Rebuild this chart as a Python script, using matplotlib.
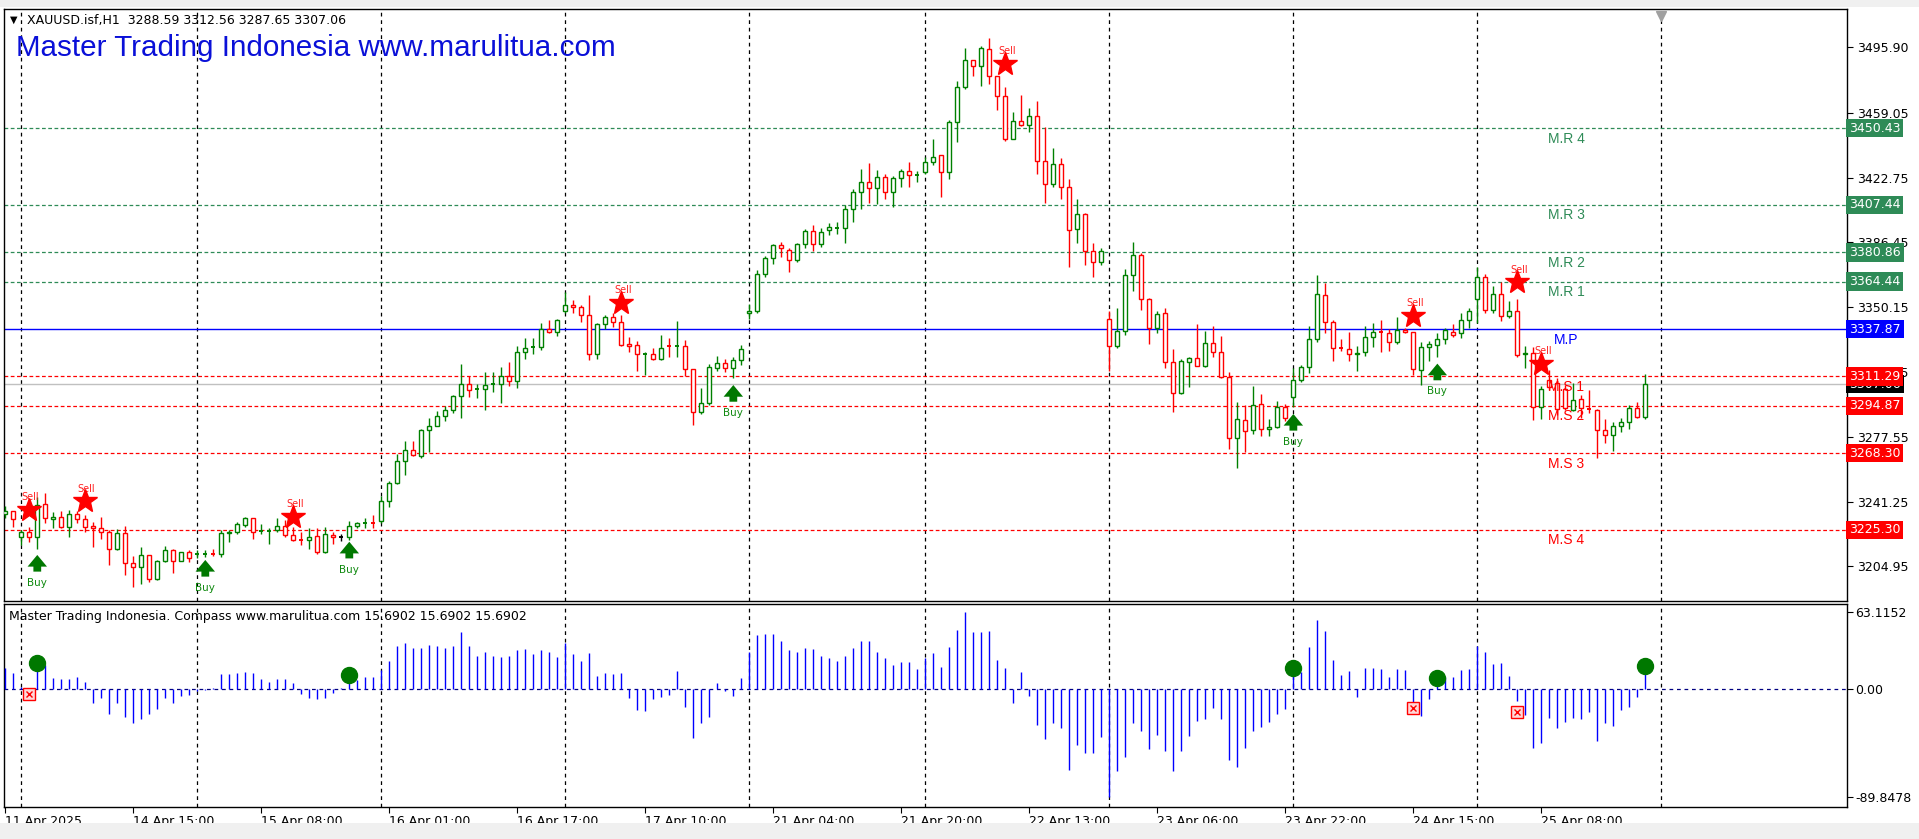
import matplotlib
matplotlib.use("Agg")
import matplotlib.pyplot as plt
import matplotlib.transforms as mtransforms
from matplotlib.patches import Rectangle

# ---- chart data ----
header = "XAUUSD.isf,H1  3288.59 3312.56 3287.65 3307.06"
banner = "Master Trading Indonesia www.marulitua.com"
sub_header = "Master Trading Indonesia. Compass www.marulitua.com 15.6902 15.6902 15.6902"

opens = [
    3234.0, 3235.9, 3221.5, 3223.9, 3221.1, 3239.8, 3231.7, 3232.3, 3227.2, 3234.1,
    3231.3, 3227.7, 3226.6, 3224.3, 3214.6, 3223.7, 3206.7, 3204.4, 3211.1, 3197.8,
    3207.8, 3213.9, 3207.8, 3212.8, 3211.8, 3211.8, 3212.0, 3211.6, 3223.7, 3224.3,
    3228.1, 3231.9, 3224.8, 3224.8, 3225.3, 3227.7, 3222.4, 3220.0, 3219.9, 3221.9,
    3213.0, 3222.4, 3221.1, 3221.1, 3227.7, 3229.3, 3229.4, 3230.6, 3241.3, 3251.8,
    3264.0, 3270.3, 3266.5, 3281.1, 3283.8, 3289.4, 3292.4, 3300.2, 3307.0, 3303.9,
    3304.1, 3307.1, 3307.2, 3311.7, 3308.8, 3325.2, 3327.8, 3328.0, 3338.1, 3336.5,
    3348.0, 3351.6, 3350.5, 3345.5, 3323.7, 3340.8, 3344.4, 3341.7, 3329.7, 3329.1,
    3324.1, 3324.1, 3321.2, 3328.4, 3328.2, 3328.6, 3315.6, 3291.2, 3296.4, 3316.3,
    3318.9, 3316.3, 3320.7, 3346.6, 3348.2, 3368.5, 3377.5, 3384.9, 3382.4, 3376.3,
    3385.3, 3392.8, 3385.6, 3393.1, 3394.7, 3394.7, 3405.1, 3414.8, 3420.4, 3417.0,
    3423.2, 3414.8, 3422.6, 3426.5, 3423.9, 3425.7, 3431.5, 3435.2, 3425.7, 3453.8,
    3473.3, 3488.7, 3485.3, 3494.8, 3479.8, 3468.6, 3444.1, 3454.7, 3452.4, 3457.2,
    3432.1, 3419.0, 3430.1, 3417.6, 3393.9, 3402.3, 3381.4, 3375.2, 3343.7, 3328.4,
    3336.8, 3368.0, 3379.1, 3354.9, 3338.7, 3347.1, 3319.2, 3301.9, 3319.2, 3321.5,
    3317.3, 3329.8, 3324.8, 3310.9, 3276.6, 3287.1, 3281.1, 3295.7, 3281.7, 3283.1,
    3294.1, 3299.7, 3309.1, 3316.5, 3332.1, 3357.1, 3342.1, 3327.2, 3326.5, 3323.7,
    3325.1, 3333.7, 3336.2, 3335.5, 3330.5, 3337.1, 3336.1, 3314.7, 3327.7, 3329.1,
    3332.1, 3336.5, 3335.5, 3342.7, 3354.7, 3367.1, 3348.7, 3357.7, 3345.1, 3348.1,
    3323.7, 3324.5, 3294.1, 3309.4, 3307.5, 3304.1, 3292.5, 3298.5, 3293.4, 3292.5,
    3281.3, 3278.5, 3283.6, 3285.6, 3293.5, 3288.59,
]
highs = [
    3238.5, 3235.9, 3225.3, 3227.2, 3243.6, 3246.1, 3235.1, 3235.7, 3236.6, 3236.1,
    3233.8, 3230.0, 3232.3, 3225.3, 3225.6, 3227.5, 3210.5, 3215.8, 3211.1, 3208.6,
    3216.2, 3214.8, 3212.8, 3214.3, 3213.9, 3213.9, 3214.8, 3225.3, 3225.3, 3230.0,
    3232.8, 3231.9, 3228.7, 3226.2, 3231.9, 3230.9, 3226.8, 3224.3, 3226.2, 3226.2,
    3226.8, 3224.3, 3223.0, 3230.6, 3230.0, 3231.9, 3233.8, 3244.2, 3252.7, 3267.8,
    3274.9, 3275.4, 3281.8, 3287.9, 3291.7, 3294.9, 3300.9, 3318.3, 3311.5, 3307.0,
    3313.8, 3313.8, 3316.7, 3319.4, 3328.6, 3333.1, 3333.1, 3341.4, 3343.0, 3343.7,
    3358.8, 3354.3, 3351.6, 3356.8, 3341.4, 3346.0, 3347.1, 3345.5, 3333.6, 3330.9,
    3325.0, 3327.3, 3334.7, 3333.1, 3342.6, 3332.0, 3315.6, 3304.8, 3318.3, 3322.8,
    3321.2, 3322.3, 3329.1, 3352.0, 3370.7, 3379.0, 3385.8, 3386.5, 3383.5, 3386.0,
    3393.9, 3396.2, 3394.5, 3397.3, 3398.1, 3407.3, 3416.2, 3427.4, 3430.7, 3426.8,
    3424.6, 3423.7, 3427.4, 3431.5, 3426.5, 3434.3, 3444.6, 3435.2, 3455.2, 3476.7,
    3495.1, 3488.7, 3496.2, 3501.2, 3479.8, 3473.3, 3459.4, 3469.2, 3461.6, 3465.5,
    3451.0, 3439.3, 3433.5, 3421.8, 3410.6, 3402.8, 3386.1, 3383.3, 3347.9, 3349.9,
    3371.6, 3386.9, 3380.5, 3355.4, 3347.9, 3349.9, 3326.5, 3320.9, 3322.0, 3340.9,
    3336.8, 3339.6, 3334.0, 3313.6, 3296.9, 3295.1, 3306.1, 3301.5, 3287.5, 3297.5,
    3296.1, 3316.1, 3317.7, 3339.5, 3368.1, 3363.7, 3343.1, 3332.1, 3336.1, 3328.1,
    3339.7, 3341.5, 3343.1, 3337.7, 3344.5, 3338.5, 3336.1, 3330.5, 3331.1, 3335.7,
    3338.5, 3340.5, 3347.1, 3349.7, 3372.5, 3368.5, 3362.1, 3364.1, 3353.5, 3354.5,
    3328.1, 3327.7, 3306.1, 3314.9, 3310.3, 3306.5, 3307.5, 3300.9, 3303.7, 3292.9,
    3287.3, 3286.0, 3287.9, 3295.3, 3297.2, 3312.56,
]
lows = [
    3231.9, 3227.2, 3216.7, 3218.6, 3214.8, 3229.4, 3226.6, 3226.2, 3221.1, 3229.0,
    3224.3, 3215.8, 3220.5, 3205.9, 3213.9, 3200.3, 3193.1, 3195.0, 3195.9, 3197.2,
    3207.3, 3201.0, 3207.8, 3207.1, 3209.7, 3210.1, 3210.5, 3210.1, 3218.6, 3223.0,
    3227.2, 3220.5, 3223.0, 3217.3, 3224.3, 3221.5, 3219.2, 3216.7, 3214.8, 3211.6,
    3212.4, 3217.3, 3219.2, 3219.6, 3226.2, 3226.2, 3226.2, 3229.4, 3238.1, 3250.8,
    3255.9, 3266.9, 3265.6, 3269.0, 3283.6, 3286.3, 3290.8, 3288.1, 3299.8, 3299.4,
    3292.6, 3302.5, 3296.4, 3306.1, 3305.0, 3321.2, 3324.1, 3326.4, 3335.4, 3334.2,
    3347.1, 3347.1, 3342.1, 3320.5, 3321.2, 3338.1, 3338.8, 3328.6, 3325.2, 3314.4,
    3312.2, 3320.5, 3320.7, 3322.3, 3322.3, 3311.5, 3284.0, 3290.3, 3295.3, 3314.4,
    3314.0, 3310.6, 3317.8, 3343.3, 3347.1, 3367.3, 3374.5, 3378.1, 3369.6, 3375.2,
    3383.1, 3381.5, 3383.6, 3390.6, 3391.1, 3386.1, 3398.1, 3405.1, 3408.4, 3407.9,
    3410.6, 3406.5, 3417.6, 3417.6, 3420.4, 3424.6, 3429.6, 3412.0, 3421.8, 3442.7,
    3472.5, 3479.8, 3474.2, 3475.3, 3460.8, 3443.5, 3444.1, 3451.9, 3448.3, 3424.6,
    3408.4, 3417.6, 3410.6, 3372.5, 3386.1, 3373.9, 3366.9, 3373.9, 3314.5, 3327.0,
    3334.8, 3359.1, 3348.8, 3329.3, 3335.4, 3315.9, 3291.4, 3301.4, 3305.3, 3317.3,
    3316.4, 3322.0, 3310.3, 3270.7, 3260.1, 3269.1, 3279.1, 3277.7, 3277.7, 3282.7,
    3286.1, 3294.1, 3308.1, 3313.1, 3330.7, 3335.7, 3320.1, 3325.7, 3320.1, 3314.5,
    3322.5, 3327.7, 3325.1, 3325.7, 3329.7, 3335.7, 3312.1, 3306.5, 3319.7, 3322.1,
    3329.7, 3333.7, 3333.1, 3338.5, 3341.1, 3347.1, 3347.1, 3342.5, 3344.1, 3322.1,
    3316.1, 3287.1, 3287.7, 3303.7, 3289.7, 3292.5, 3292.2, 3287.9, 3291.0, 3265.4,
    3274.2, 3269.7, 3280.4, 3281.7, 3287.9, 3287.65,
]
closes = [
    3235.9, 3231.3, 3223.9, 3221.1, 3239.5, 3231.9, 3232.3, 3227.2, 3234.1, 3231.3,
    3227.2, 3226.6, 3223.9, 3214.8, 3223.7, 3206.7, 3204.4, 3211.1, 3197.8, 3207.8,
    3213.9, 3207.8, 3212.8, 3209.7, 3212.0, 3212.0, 3211.8, 3223.7, 3224.3, 3228.7,
    3231.9, 3224.3, 3224.9, 3224.9, 3227.7, 3222.4, 3219.9, 3219.9, 3221.1, 3213.0,
    3223.0, 3221.5, 3221.1, 3227.7, 3229.0, 3229.4, 3229.3, 3241.3, 3251.8, 3264.0,
    3270.3, 3267.5, 3281.1, 3283.8, 3289.4, 3292.4, 3300.2, 3307.0, 3303.6, 3304.2,
    3306.6, 3307.3, 3311.7, 3308.8, 3325.2, 3327.5, 3328.0, 3338.1, 3336.5, 3342.8,
    3351.1, 3350.0, 3345.5, 3324.1, 3340.8, 3344.4, 3341.7, 3329.1, 3328.6, 3323.7,
    3324.2, 3321.2, 3327.5, 3328.3, 3328.4, 3315.6, 3291.2, 3296.4, 3316.7, 3318.9,
    3316.3, 3320.7, 3326.8, 3348.2, 3368.5, 3377.5, 3384.9, 3383.1, 3376.3, 3385.3,
    3392.8, 3385.3, 3392.5, 3395.3, 3394.8, 3405.1, 3414.8, 3420.4, 3417.0, 3423.2,
    3414.8, 3422.6, 3426.5, 3424.0, 3424.1, 3431.5, 3434.3, 3425.7, 3453.8, 3473.3,
    3488.7, 3485.3, 3495.1, 3479.8, 3468.6, 3444.1, 3454.7, 3452.4, 3457.2, 3432.1,
    3419.0, 3430.1, 3417.6, 3393.1, 3402.3, 3381.4, 3375.2, 3381.4, 3328.4, 3336.8,
    3368.0, 3379.1, 3354.9, 3338.7, 3346.5, 3319.2, 3301.9, 3320.1, 3321.5, 3317.3,
    3329.8, 3324.8, 3310.9, 3276.9, 3287.2, 3280.5, 3295.1, 3281.7, 3283.1, 3294.1,
    3288.1, 3309.1, 3316.5, 3332.1, 3357.7, 3342.1, 3327.1, 3327.1, 3323.7, 3324.7,
    3333.7, 3336.5, 3336.1, 3330.5, 3337.1, 3336.1, 3315.5, 3327.7, 3329.5, 3332.1,
    3337.1, 3334.7, 3342.7, 3348.1, 3367.1, 3348.7, 3357.7, 3345.1, 3348.1, 3323.5,
    3324.7, 3294.1, 3304.5, 3305.6, 3292.9, 3293.5, 3298.1, 3293.5, 3293.3, 3281.3,
    3278.5, 3283.6, 3285.6, 3293.5, 3288.4, 3307.06,
]
doji_black = [42]

compass = [
    16.8, 12.6, 1.0, -1.0, 16.0, 19.8, 8.4, 7.8, 7.8, 9.2,
    5.6, -12.3, -7.5, -20.7, -11.7, -23.7, -28.5, -25.1, -21.0, -17.3,
    -7.5, -12.3, -6.1, -5.6, -2.0, -1.4, 0.8, 12.0, 12.0, 12.6,
    13.4, 12.6, 7.8, 5.6, 7.8, 7.8, 4.2, -4.7, -7.5, -8.9,
    -7.5, -3.4, 0.8, 6.4, 7.0, 9.2, 9.2, 15.6, 22.4, 35.2,
    37.3, 33.7, 33.9, 35.9, 34.9, 33.2, 34.9, 46.5, 34.9, 26.6,
    29.9, 26.6, 25.9, 26.6, 32.2, 32.6, 28.2, 31.6, 29.9, 25.9,
    37.5, 28.2, 22.6, 29.2, 10.6, 12.6, 11.6, 12.6, -7.6, -17.6,
    -18.3, -8.3, -7.3, -5.6, 14.3, -15.0, -40.9, -28.9, -23.9, 4.3,
    -1.7, -6.6, 9.0, 30.6, 44.2, 44.9, 44.9, 39.2, 31.6, 29.9,
    33.2, 32.6, 26.7, 25.1, 22.6, 27.2, 33.3, 39.1, 39.1, 30.0,
    25.1, 19.7, 21.8, 21.8, 16.5, 25.1, 29.2, 17.7, 34.1, 48.5,
    63.1, 46.5, 46.5, 47.3, 23.9, 16.9, -11.9, 13.6, -6.2, -30.4,
    -42.0, -28.4, -32.5, -67.5, -46.9, -53.1, -53.1, -39.9, -89.85, -67.9,
    -56.4, -28.4, -35.0, -50.2, -38.7, -51.4, -67.9, -51.4, -39.1, -26.7,
    -25.5, -16.5, -25.2, -59.0, -64.7, -49.0, -35.2, -32.2, -27.8, -21.3,
    -16.8, 13.6, 13.6, 34.3, 57.0, 47.6, 23.9, 11.2, 14.5, -7.1,
    17.1, 17.1, 16.5, 9.7, 16.5, 15.7, -13.0, -22.4, -8.6, 6.2,
    9.2, 9.7, 15.7, 16.5, 34.9, 29.8, 20.1, 21.0, 10.0, -10.6,
    -21.9, -49.0, -44.9, -24.2, -32.8, -27.8, -24.8, -25.4, -19.5, -43.1,
    -28.4, -31.3, -18.0, -15.1, -7.1, 15.69,
]

time_ticks = [0, 16, 32, 48, 64, 80, 96, 112, 128, 144, 160, 176, 192]
time_labels = ["11 Apr 2025", "14 Apr 15:00", "15 Apr 08:00", "16 Apr 01:00",
               "16 Apr 17:00", "17 Apr 10:00", "21 Apr 04:00", "21 Apr 20:00",
               "22 Apr 13:00", "23 Apr 06:00", "23 Apr 22:00", "24 Apr 15:00",
               "25 Apr 08:00"]
day_lines = [2, 24, 47, 70, 93, 115, 138, 161, 184, 207]

price_ticks = [3495.90, 3459.05, 3422.75, 3386.45, 3350.15, 3313.85, 3277.55, 3241.25, 3204.95]
compass_ticks = [63.1152, 0.0, -89.8478]

level_names = ["M.R 4", "M.R 3", "M.R 2", "M.R 1", "M.P", "M.S 1", "M.S 2", "M.S 3", "M.S 4"]
level_values = [3450.43, 3407.44, 3380.86, 3364.44, 3337.87, 3311.29, 3294.87, 3268.30, 3225.30]
last_price = 3307.06

sell_bars = [3, 10, 36, 77, 125, 176, 189, 192]
sell_prices = [3236.5, 3241.5, 3232.8, 3352.7, 3486.4, 3345.2, 3364.2, 3318.5]
buy_bars = [4, 25, 43, 91, 161, 179]
buy_prices = [3211.3, 3208.5, 3218.7, 3306.5, 3290.3, 3318.5]

dot_bars = [4, 43, 161, 179, 205]
dot_values = [21.2, 11.2, 17.1, 8.3, 18.6]
cross_bars = [3, 176, 189]
cross_values = [-4.7, -16.5, -19.5]

UP = "#008000"
DOWN = "#ff0000"
R_COL = "#2e8b57"
S_COL = "#ff0000"
P_COL = "#0000ff"

W, H = 1919, 839


def fx(px):
    return px / W


def fy(py):
    return 1 - py / H


def level_color(name):
    if name.startswith("M.R"):
        return R_COL
    if name.startswith("M.S"):
        return S_COL
    return P_COL


def draw_candles(ax):
    bw = 0.52
    for i, (o, h, l, c) in enumerate(zip(opens, highs, lows, closes)):
        col = UP if c >= o else DOWN
        if i in doji_black:
            col = "black"
        ax.vlines(i, l, h, color=col, lw=1.0, zorder=3)
        lo, hi = min(o, c), max(o, c)
        if hi - lo < 0.4:
            ax.hlines((o + c) / 2, i - bw / 2, i + bw / 2, color=col, lw=1.4, zorder=4)
        else:
            ax.add_patch(Rectangle((i - bw / 2, lo), bw, hi - lo, facecolor="white",
                                   edgecolor=col, lw=1.0, zorder=4))


def main():
    fig = plt.figure(figsize=(W / 100, H / 100), dpi=100)
    fig.patch.set_facecolor("white")
    fig.patches.append(Rectangle((0, fy(7)), 1, 7 / H, transform=fig.transFigure,
                                 facecolor="#f0f0f0", edgecolor="none"))
    fig.patches.append(Rectangle((0, 0), 1, 16 / H, transform=fig.transFigure,
                                 facecolor="#f0f0f0", edgecolor="none"))

    ax = fig.add_axes([fx(4), fy(601), fx(1847 - 4), (601 - 9) / H])
    ind = fig.add_axes([fx(4), fy(807), fx(1847 - 4), (807 - 604) / H], sharex=ax)

    xmin, xmax = -0.16, 230.2
    ax.set_xlim(xmin, xmax)
    ax.set_ylim(3185.5, 3517.2)
    ind.set_ylim(-98.0, 69.9)

    for a in (ax, ind):
        for s in a.spines.values():
            s.set_linewidth(1.0)
            s.set_color("black")
        for d in day_lines:
            a.axvline(d, color="black", lw=0.9, ls=(0, (3, 3)), zorder=1)

    # pivot levels
    for name, val in zip(level_names, level_values):
        col = level_color(name)
        if name == "M.P":
            ax.axhline(val, color=col, lw=1.0, zorder=2)
        else:
            ax.axhline(val, color=col, lw=0.9, ls=(0, (3, 2)), zorder=2)
        xt = 193.5 if name == "M.P" else 192.8
        ax.annotate(name, (xt, val), xytext=(0, -2.5), textcoords="offset points",
                    ha="left", va="top", fontsize=10, color=col,
                    family="Liberation Sans", zorder=6)
    ax.axhline(last_price, color="#c0c0c0", lw=1.0, zorder=2)

    draw_candles(ax)

    # sell stars
    for b, p in zip(sell_bars, sell_prices):
        ax.annotate("Sell", (b, p), xytext=(1, 9), textcoords="offset points",
                    ha="center", va="center", fontsize=7, color="#ff2020", zorder=5)
        ax.plot(b, p, marker="*", ms=18, color="#ff0000", mec="#ff0000", zorder=6)

    # buy arrows
    for b, p in zip(buy_bars, buy_prices):
        ax.annotate("", xy=(b, p), xytext=(0, -12), textcoords="offset points",
                    xycoords="data",
                    arrowprops=dict(arrowstyle="simple,head_length=0.6,head_width=1.0,tail_width=0.4",
                                    fc="#007800", ec="none", mutation_scale=14,
                                    shrinkA=0, shrinkB=0), zorder=6)
        ax.annotate("Buy", (b, p), xytext=(0, -20), textcoords="offset points",
                    ha="center", va="center", fontsize=7.5, color="#108a10", zorder=6)

    # price axis
    ax.yaxis.tick_right()
    ax.set_yticks(price_ticks)
    ax.set_yticklabels([f"{v:.2f}" for v in price_ticks])
    ax.tick_params(axis="y", length=4, width=0.8, pad=3, labelsize=9)
    ax.tick_params(axis="x", bottom=False, labelbottom=False)

    blend = mtransforms.blended_transform_factory(ax.transAxes, ax.transData)
    ax.text(1.0012, last_price, f"{last_price:.2f}", transform=blend, ha="left",
            va="center", fontsize=9, color="white", clip_on=False, zorder=7,
            bbox=dict(boxstyle="square,pad=0.22", fc="black", ec="none"))
    for name, val in zip(level_names, level_values):
        ax.text(1.0012, val, f"{val:.2f}", transform=blend, ha="left", va="center",
                fontsize=9, color="white", clip_on=False, zorder=8,
                bbox=dict(boxstyle="square,pad=0.22", fc=level_color(name), ec="none"))

    # header texts
    ax.text(0.0035, 0.981, "\u25bc", transform=ax.transAxes, fontsize=7,
            ha="left", va="center")
    ax.text(0.0125, 0.981, header, transform=ax.transAxes, fontsize=9,
            ha="left", va="center")
    ax.text(0.0063, 0.934, banner, transform=ax.transAxes, fontsize=21.3,
            color="#0a10d8", family="Liberation Sans", ha="left", va="center")
    ax.plot(207, 3513, marker="v", ms=7, color="#a0a0a0", clip_on=False, zorder=7)

    # compass indicator
    xs = list(range(len(compass)))
    ind.vlines(xs, 0, compass, color="#0000ff", lw=1.0, zorder=3)
    ind.axhline(0, color="#000080", lw=0.9, ls=(0, (3, 3)), zorder=2)
    ind.plot(dot_bars, dot_values, ls="none", marker="o", ms=11.5, color="#007800",
             zorder=5)
    ind.plot(cross_bars, cross_values, ls="none", marker="s", ms=8, mfc="#ffd8d8",
             mec="#ff0000", mew=1.0, zorder=5)
    ind.plot(cross_bars, cross_values, ls="none", marker="x", ms=5, color="#ff0000",
             mew=1.0, zorder=6)
    ind.text(0.0025, 0.94, sub_header, transform=ind.transAxes, fontsize=9,
             ha="left", va="center")

    ind.yaxis.tick_right()
    ind.set_yticks(compass_ticks)
    ind.set_yticklabels(["63.1152", "0.00", "-89.8478"])
    ind.tick_params(axis="y", length=4, width=0.8, pad=2, labelsize=9)

    ind.set_xticks(time_ticks)
    ind.set_xticklabels(time_labels, ha="left")
    ind.tick_params(axis="x", length=4, width=0.8, pad=2, labelsize=9)

    fig.savefig("out.png", dpi=100)


if __name__ == "__main__":
    main()
